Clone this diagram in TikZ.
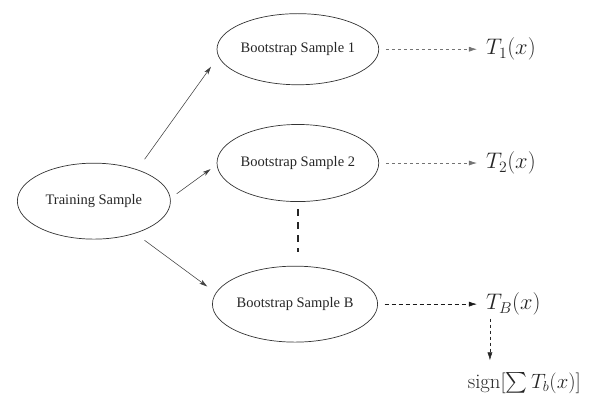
\documentclass[tikz,border=0pt]{standalone}
\usepackage{fix-cm}
\usepackage{amsmath}
\usepackage{fontspec}
\newfontfamily\timesf{Liberation Serif}
\usetikzlibrary{arrows,arrows.meta,shapes.geometric,positioning}

\tikzset{
  sampl/.style={draw=black!80, ellipse, line width=0.7pt, inner sep=0pt, outer sep=0pt,
    font=\timesf\fontsize{14.5}{17}\selectfont, text=black!85},
  model/.style={inner sep=0pt, font=\fontsize{22.5}{27}\selectfont, text=black!85},
  resample/.style={-{Stealth[length=8pt,width=4.5pt,inset=2pt]}, black!75, line width=0.55pt},
  predict/.style={-{Latex[length=8pt,width=5pt]}, line width=0.6pt, dash pattern=on 3pt off 3pt}
}

\begin{document}
\begin{tikzpicture}[scale=1]
\useasboundingbox (0,0) rectangle (21.30,14.73);

% samples
\node[sampl, minimum width=5.38cm, minimum height=2.67cm] (train) at (3.30, 7.66) {Training Sample};
\node[sampl, minimum width=5.38cm, minimum height=2.50cm] (bs1) at (10.47, 13.00) {Bootstrap Sample 1};
\node[sampl, minimum width=5.38cm, minimum height=2.71cm] (bs2) at (10.47, 9.00) {Bootstrap Sample 2};
\node[sampl, minimum width=5.62cm, minimum height=2.67cm] (bsB) at (10.37, 4.04) {Bootstrap Sample B};

% trees
\node[model, anchor=west] (t1) at (17.08, 13.00) {$T_1(x)$};
\node[model, anchor=west] (t2) at (17.08, 9.00) {$T_2(x)$};
\node[model, anchor=west] (tB) at (17.08, 4.04) {$T_B(x)$};
\node[model, font=\fontsize{20.74}{25}\selectfont] (vote) at (18.43, 1.27) {$\mathrm{sign}[\sum T_b(x)]$};

% bootstrap draws
\draw[resample, shorten <=13pt, shorten >=13pt] (train.36) -- (bs1.185);
\draw[resample, shorten <=8pt, shorten >=8pt] (train.2) -- (bs2.181);
\draw[resample, shorten <=12pt, shorten >=11pt] (train.322) -- (bsB.172);

% dots between samples
\draw[black!85, line width=1.6pt, dash pattern=on 7pt off 6pt, shorten <=7.5pt, shorten >=14pt]
  (bs2.south) -- (bs2.south |- bsB.north);

% fitted trees
\draw[predict, black!55, shorten <=7pt, shorten >=9pt] (bs1) -- (t1);
\draw[predict, black!55, shorten <=7pt, shorten >=9pt] (bs2) -- (t2);
\draw[predict, black!90, dash pattern=on 4pt off 3pt, shorten <=7pt, shorten >=9pt] (bsB) -- (tB);
\draw[predict, black!85, line width=0.5pt, shorten <=3pt, shorten >=12pt]
  ([xshift=4pt]tB.south west) -- ([xshift=4pt]tB.south west |- vote.north);
\end{tikzpicture}
\end{document}
